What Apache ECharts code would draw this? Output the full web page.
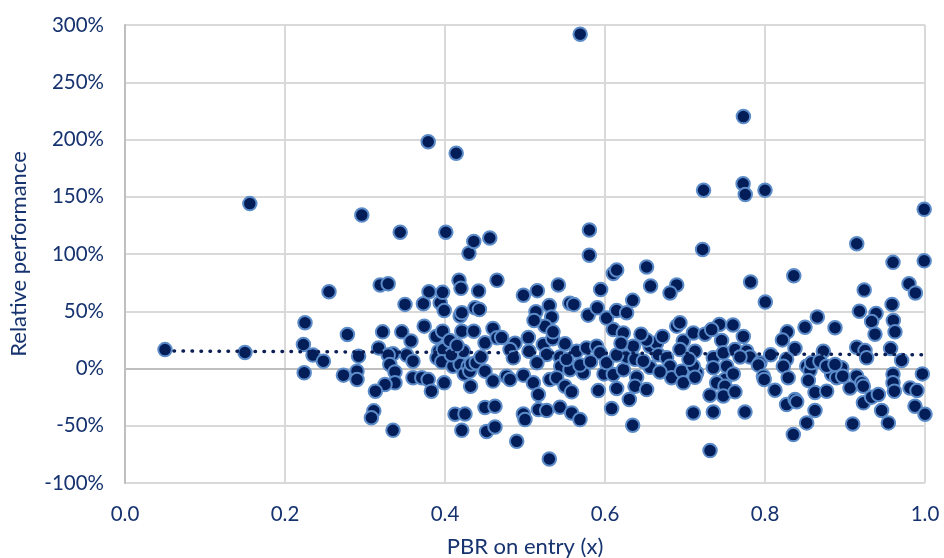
<!DOCTYPE html>
<html>
<head>
<meta charset="utf-8">
<script src="https://cdn.jsdelivr.net/npm/echarts@6/dist/echarts.min.js"></script>
<style>
html,body{margin:0;padding:0;background:#fff;}
#chart{width:944px;height:558px;}
</style>
</head>
<body>
<div id="chart"></div>
<script>
// x = PBR on entry, y = relative performance (%)
const outliers = [
  [0.05, 16.5], [0.15, 14], [0.156, 144], [0.296, 134], [0.344, 119], [0.379, 198],
  [0.401, 119], [0.414, 188], [0.43, 100.7], [0.436, 111], [0.456, 114], [0.569, 292],
  [0.5805, 121], [0.5804, 99], [0.722, 104], [0.7232, 155.7], [0.7726, 161.4],
  [0.7753, 152], [0.8, 155.7], [0.773, 220], [0.9147, 109], [0.999, 139],
  [0.96, 92.7], [0.999, 94]
];
const band1 = [
  [0.225, 40], [0.223, 21], [0.235, 11.7], [0.248, 6.4], [0.224, -3.8], [0.255, 67],
  [0.278, 29.7], [0.273, -5.8], [0.29, -2.3], [0.29, -9.6], [0.292, 10.8]
];
const band2 = [
  [0.319, 73], [0.329, 74], [0.322, 32], [0.317, 18], [0.346, 32], [0.3575, 24],
  [0.335, 12.8], [0.329, 11.7], [0.331, 3.5], [0.3375, -3], [0.3375, -12.5], [0.325, -14],
  [0.313, -19.8], [0.311, -37], [0.308, -43], [0.335, -54], [0.35, 56], [0.352, 11.7],
  [0.36, 6.4], [0.36, -8], [0.371, -8], [0.379, -9.6], [0.383, -19.8], [0.373, 56.6],
  [0.38, 67], [0.374, 37], [0.389, 28], [0.392, 15], [0.39, 9.3], [0.394, 57.4],
  [0.397, 66.5], [0.397, 32.6], [0.398, 16.6], [0.396, 5.8], [0.399, 50.7], [0.399, -12.5],
  [0.406, 24.5], [0.41, 2], [0.4125, -40], [0.4175, 77], [0.419, 45.8], [0.419, 3.5],
  [0.42, 70], [0.421, 48.7], [0.421, 32.6], [0.421, -54], [0.423, 15], [0.424, -4.7],
  [0.425, -39.7], [0.429, 2], [0.431, -2.3], [0.432, -15.5], [0.433, 4], [0.436, 32.6],
  [0.4375, 53], [0.439, 5], [0.442, 67.6], [0.443, 51.6], [0.45, 22.4], [0.45, -2.3],
  [0.45, -34], [0.452, -55], [0.46, 35], [0.46, -11], [0.4625, -33], [0.4625, -51],
  [0.465, 77], [0.465, 26.8], [0.408, 12], [0.445, 10], [0.415, 20]
];
const band3 = [
  [0.498, 64], [0.5154, 68], [0.5417, 73], [0.5304, 55], [0.556, 57], [0.561, 56],
  [0.5137, 49.6], [0.5333, 45], [0.525, 37], [0.5113, 42], [0.579, 46.6], [0.5904, 53],
  [0.5946, 69], [0.4708, 27], [0.5042, 27], [0.4875, 22], [0.4813, 16.6], [0.4854, 9.3],
  [0.5229, 21], [0.5346, 26], [0.55, 21.6], [0.5646, 15], [0.577, 18], [0.5896, 19.5],
  [0.5937, 13.7], [0.5271, 12.2], [0.5437, 10], [0.5446, 2], [0.5708, 0], [0.5729, -3.8],
  [0.5562, -1], [0.5687, 3], [0.5987, -4.7], [0.477, -6.7], [0.4813, -9.6], [0.498, -5.8],
  [0.5104, -12.5], [0.5167, -22.7], [0.5312, -9.6], [0.5396, -8], [0.55, -15.5],
  [0.5583, -20.4], [0.4979, -39.7], [0.5, -44.6], [0.5167, -35.9], [0.5271, -36.7],
  [0.5437, -33.8], [0.5583, -38.8], [0.5687, -44.6], [0.4896, -63.6], [0.5304, -79],
  [0.5917, -19.2], [0.505, 15], [0.515, 5], [0.552, 8], [0.582, 6], [0.535, 32]
];
const band4 = [
  [0.6104, 83], [0.6146, 86], [0.652, 88.6], [0.657, 72], [0.6896, 73], [0.68125, 66],
  [0.602, 44], [0.6146, 50.7], [0.627, 48.7], [0.6346, 59.5], [0.6104, 34], [0.6229, 31],
  [0.602, 5], [0.6104, -5.2], [0.623, -1], [0.6271, 10], [0.6146, 11.7], [0.6354, 19.5],
  [0.6375, 8], [0.6396, -7.6], [0.6562, 19.5], [0.6646, 22.4], [0.652, 25], [0.6667, 12],
  [0.6563, 1], [0.677, 9.3], [0.6812, 2], [0.6833, -8], [0.6979, 24], [0.6937, 16.6],
  [0.6958, -2.3], [0.6979, -12.5], [0.6896, 37], [0.6937, 40], [0.7104, 31], [0.7125, 15],
  [0.7146, -3.8], [0.7104, -38.8], [0.6083, -35], [0.6146, -17.5], [0.6304, -27],
  [0.6346, -49.6], [0.6375, -15.5], [0.652, -18.4], [0.66875, -3], [0.6479, 6.4],
  [0.725, 30], [0.743, 38.5], [0.7458, 24.5], [0.7333, 34], [0.7354, 9.3], [0.7479, 13.7],
  [0.7521, 2], [0.7354, 0.6], [0.7104, 2], [0.7125, -7.6], [0.75, -9.6], [0.7396, -12.5],
  [0.75, -15.5], [0.7479, -24], [0.7312, -23.3], [0.7354, -38], [0.7313, -71.7],
  [0.62, 22], [0.645, 30], [0.672, 28], [0.705, 8]
];
const band5 = [
  [0.76, 38], [0.7729, 28], [0.7625, 16.6], [0.7771, 15], [0.7813, 10], [0.76875, 10],
  [0.7937, 5], [0.7917, 3], [0.7604, -4.7], [0.7625, -20.4], [0.775, -38], [0.782, 75.5],
  [0.8004, 58], [0.836, 81], [0.98, 74], [0.988, 66], [0.924, 68.5], [0.9588, 56],
  [0.918, 50], [0.9388, 48], [0.9333, 41], [0.9604, 42], [0.9625, 32], [0.9375, 30],
  [0.8875, 35.6], [0.8654, 45], [0.85, 36], [0.8279, 32], [0.8217, 25], [0.8375, 17.5],
  [0.8729, 15], [0.8071, 12], [0.827, 8], [0.8229, 2], [0.798, -6.7], [0.799, -9.6],
  [0.8125, -19], [0.829, -8], [0.8521, 2], [0.8563, -1.7], [0.8583, 5], [0.8687, 6.4],
  [0.8542, -10.5], [0.8625, -21], [0.8771, -19.8], [0.827, -31.5], [0.8375, -27],
  [0.8396, -29], [0.8625, -36.7], [0.8521, -47.5], [0.8354, -57.7], [0.8833, -5],
  [0.8896, -8], [0.8958, 0.6], [0.8971, -6.7], [0.877, 2], [0.8875, 3.5], [0.9146, 18.6],
  [0.925, 15.7], [0.927, 9.3], [0.9146, -6.7], [0.9063, -17], [0.921, -12.5],
  [0.9229, -15.5], [0.923, -30], [0.9096, -48.4], [0.9333, -25], [0.9417, -22.7],
  [0.9458, -36.7], [0.9542, -47.5], [0.957, 17.5], [0.9708, 7], [0.96, -5], [0.96, -12.5],
  [0.9617, -19.8], [0.98125, -17], [0.99, -19.2], [0.9875, -33], [0.9967, -4.7], [1.0, -40]
];
const trendX = [0.05, 1.0];
const trendY = [15.3, 12.0];
const xTicks = [0, 0.2, 0.4, 0.6, 0.8, 1.0];
const yTicks = [-100, -50, 0, 50, 100, 150, 200, 250, 300];

const points = [].concat(outliers, band1, band2, band3, band4, band5);
const trend = trendX.map((x, i) => [x, trendY[i]]);
const txt = '#163370';
const font = 'Lato, "Open Sans", sans-serif';

const chart = echarts.init(document.getElementById('chart'), null, {renderer: 'canvas'});
chart.setOption({
  animation: false,
  backgroundColor: '#ffffff',
  grid: {left: 125, right: 19, top: 25, bottom: 75, containLabel: false, outerBoundsMode: 'none'},
  xAxis: {
    type: 'value',
    min: xTicks[0], max: xTicks[xTicks.length - 1], interval: 0.2,
    name: 'PBR on entry (x)', nameLocation: 'middle', nameGap: 53,
    nameTextStyle: {color: txt, fontFamily: font, fontSize: 22},
    axisLine: {show: false},
    axisTick: {show: false},
    axisLabel: {color: txt, fontFamily: font, fontSize: 20.5, margin: 21,
      formatter: v => v.toFixed(1)},
    splitLine: {show: true, lineStyle: {color: '#d9d9d9', width: 2}}
  },
  yAxis: {
    type: 'value',
    min: yTicks[0], max: yTicks[yTicks.length - 1], interval: 50,
    name: 'Relative performance', nameLocation: 'middle', nameGap: 95, nameRotate: 90,
    nameTextStyle: {color: txt, fontFamily: font, fontSize: 22},
    axisLine: {show: true, onZero: false, lineStyle: {color: '#bfbfbf', width: 2}},
    axisTick: {show: false},
    axisLabel: {color: txt, fontFamily: font, fontSize: 20.5, margin: 21,
      formatter: v => v + '%'},
    splitLine: {show: true, lineStyle: {color: '#d9d9d9', width: 2}}
  },
  series: [
    {
      type: 'scatter',
      data: points,
      symbolSize: 13.5,
      itemStyle: {color: '#031d58', borderColor: '#5b8bc9', borderWidth: 2, opacity: 1},
      z: 3,
      markLine: {
        silent: true, symbol: 'none', label: {show: false},
        lineStyle: {color: '#bfbfbf', width: 2, type: 'solid'},
        data: [{yAxis: 0}],
        z: 1
      }
    },
    {
      type: 'line',
      data: trend,
      symbol: 'none',
      lineStyle: {color: '#0b1f55', width: 3.5, type: [0.5, 8.5], cap: 'round'},
      z: 5
    }
  ]
});
</script>
</body>
</html>
